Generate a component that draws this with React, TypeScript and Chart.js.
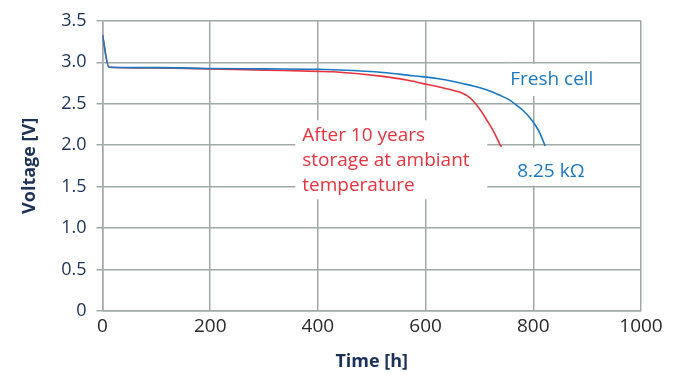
import React, { useEffect, useRef } from "react";
import { Chart, registerables } from "chart.js";

Chart.register(...registerables);

const freshHours = [0, 12, 100, 201, 300, 400, 429, 521, 577, 590, 621, 652, 682, 713, 738, 757, 769, 781, 794, 803, 812, 822];
const freshVolts = [3.33, 2.94, 2.935, 2.925, 2.92, 2.915, 2.909, 2.877, 2.837, 2.829, 2.805, 2.769, 2.724, 2.669, 2.601, 2.541, 2.481, 2.418, 2.329, 2.25, 2.149, 1.99];

const agedHours = [0, 12, 100, 201, 300, 400, 429, 521, 577, 590, 615, 639, 664, 677, 689, 701, 713, 726, 738, 741];
const agedVolts = [3.33, 2.94, 2.93, 2.92, 2.905, 2.89, 2.885, 2.83, 2.77, 2.749, 2.717, 2.681, 2.637, 2.597, 2.529, 2.43, 2.31, 2.17, 2.01, 1.98];

const xTicks = [0, 200, 400, 600, 800, 1000];
const yTicks = [0, 0.5, 1.0, 1.5, 2.0, 2.5, 3.0, 3.5];

const freshLabel = "Fresh cell";
const resistorLabel = "8.25 kΩ";
const agedLabel = ["After 10 years", "storage at ambiant", "temperature"];

const BLUE = "#1b78c2";
const RED = "#e8343e";
const NAVY = "#1d3157";
const GRID = "#9fa9a8";
const FONT = "'Open Sans', 'Noto Sans', sans-serif";

const labelsPlugin = {
  id: "labelsPlugin",
  beforeDatasetsDraw(chart: any) {
    const { ctx, scales } = chart;
    const x = scales.x;
    const y = scales.y;
    ctx.save();
    ctx.fillStyle = "#ffffff";
    // white backgrounds behind the annotations
    ctx.fillRect(x.getPixelForValue(752), y.getPixelForValue(2.98), 95, 32);
    ctx.fillRect(x.getPixelForValue(358), y.getPixelForValue(2.3), 192, 79);
    ctx.fillRect(x.getPixelForValue(752), y.getPixelForValue(1.97), 92, 38);
    ctx.restore();
  },
  afterDatasetsDraw(chart: any) {
    const { ctx, scales } = chart;
    const x = scales.x;
    const y = scales.y;
    ctx.save();
    ctx.font = `19px ${FONT}`;
    ctx.textBaseline = "middle";
    ctx.textAlign = "left";
    ctx.fillStyle = BLUE;
    ctx.fillText(freshLabel, x.getPixelForValue(757), y.getPixelForValue(2.79));
    ctx.fillText(resistorLabel, x.getPixelForValue(770), y.getPixelForValue(1.68));
    ctx.fillStyle = RED;
    const lineVals = [2.12, 1.81, 1.51];
    agedLabel.forEach((t, i) => {
      ctx.fillText(t, x.getPixelForValue(371), y.getPixelForValue(lineVals[i]));
    });
    ctx.restore();
  },
};

export default function App() {
  const ref = useRef<HTMLCanvasElement | null>(null);
  useEffect(() => {
    if (!ref.current) return;
    const chart = new Chart(ref.current, {
      type: "line",
      data: {
        datasets: [
          {
            label: "Fresh cell",
            data: freshHours.map((h, i) => ({ x: h, y: freshVolts[i] })),
            borderColor: BLUE,
            borderWidth: 1.6,
            pointRadius: 0,
            cubicInterpolationMode: "monotone",
            fill: false,
          },
          {
            label: "After 10 years",
            data: agedHours.map((h, i) => ({ x: h, y: agedVolts[i] })),
            borderColor: RED,
            borderWidth: 1.6,
            pointRadius: 0,
            cubicInterpolationMode: "monotone",
            fill: false,
          },
        ],
      },
      options: {
        responsive: false,
        animation: false,
        layout: { padding: { top: 19, right: 34, left: 0, bottom: 0 } },
        plugins: { legend: { display: false }, tooltip: { enabled: false } },
        scales: {
          x: {
            type: "linear",
            min: 0,
            max: 1000,
            afterBuildTicks: (s: any) => {
              s.ticks = xTicks.map((v) => ({ value: v }));
            },
            afterFit: (s: any) => {
              s.height = 64;
            },
            grid: { color: GRID, lineWidth: 1.5, drawTicks: false },
            border: { color: GRID, width: 1.5 },
            ticks: {
              color: "#2a2a2a",
              font: { family: FONT, size: 19 },
              padding: 4,
              maxRotation: 0,
              callback: (v: any) => String(v),
            },
            title: {
              display: true,
              text: "Time [h]",
              color: NAVY,
              font: { family: FONT, size: 18, weight: "bold" },
              padding: { top: 0, bottom: 2 },
            },
          },
          y: {
            type: "linear",
            min: 0,
            max: 3.5,
            afterBuildTicks: (s: any) => {
              s.ticks = yTicks.map((v) => ({ value: v }));
            },
            afterFit: (s: any) => {
              s.width = 102.5;
            },
            grid: { color: GRID, lineWidth: 1.5, tickLength: 6 },
            border: { color: GRID, width: 1.5 },
            ticks: {
              color: NAVY,
              font: { family: FONT, size: 18 },
              padding: 10,
              callback: (v: any) => (Number(v) === 0 ? "0" : Number(v).toFixed(1)),
            },
            title: {
              display: true,
              text: "Voltage [V]",
              color: NAVY,
              font: { family: FONT, size: 18, weight: "bold" },
              padding: { top: 19, bottom: 0 },
            },
          },
        },
      },
      plugins: [labelsPlugin],
    } as any);
    return () => chart.destroy();
  }, []);
  return (
    <div style={{ position: "absolute", left: 0, top: 0, width: 675, height: 375, background: "#fff" }}>
      <canvas ref={ref} width={675} height={375} style={{ display: "block" }} />
    </div>
  );
}
